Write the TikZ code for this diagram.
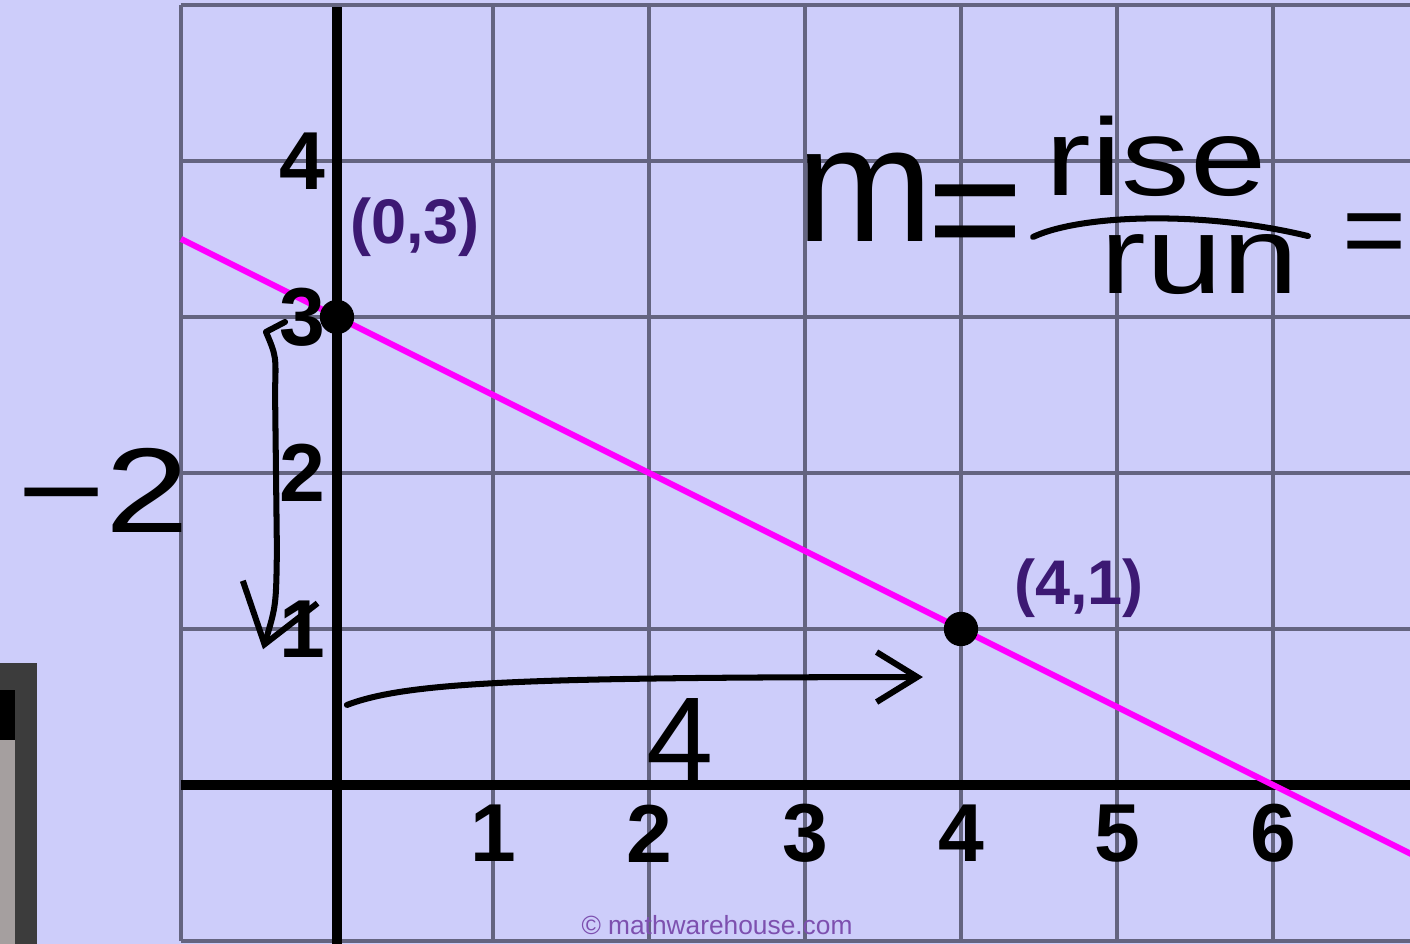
\documentclass[tikz,border=0pt]{standalone}
\usepackage{fontspec}
\setmainfont{Liberation Sans}
\usepackage{xcolor}
\usepackage{tikz}
\usetikzlibrary{arrows.meta}
\definecolor{paper}{RGB}{205,205,250}
\definecolor{gridgray}{RGB}{100,100,128}
\definecolor{graphpink}{RGB}{255,0,255}
\definecolor{ptpurple}{RGB}{60,25,115}
\definecolor{creditpurple}{RGB}{125,80,175}
\definecolor{paneldark}{RGB}{60,60,60}
\definecolor{panellight}{RGB}{165,159,159}

\begin{document}
\begin{tikzpicture}[
    gridline/.style={draw=gridgray,line width=0.8pt},
    axis/.style={draw=black,line width=1.8pt},
    graph/.style={draw=graphpink,line width=1.1pt},
    dot/.style={circle,fill=black,inner sep=0pt,minimum size=2.2mm},
    ticklabel/.style={font=\fontsize{15}{16}\selectfont\bfseries,inner sep=0pt},
    ptlabel/.style={font=\fontsize{11.5}{13}\selectfont\bfseries,text=ptpurple,inner sep=0pt},
    hand/.style={font=\fontsize{20}{22}\selectfont,inner sep=0pt},
    bighand/.style={font=\fontsize{30}{32}\selectfont,inner sep=0pt},
    stroke/.style={draw=black,line width=1.1pt,line cap=round,line join=round},
    credit/.style={font=\fontsize{4.8}{5.5}\selectfont,text=creditpurple,inner sep=0pt}
  ]
    % Page
    \useasboundingbox (-2.16,-1.019) rectangle (6.878,5.032);
    \clip (-2.16,-1.019) rectangle (6.878,5.032);
    \fill[paper] (-2.16,-1.019) rectangle (6.878,5.032);

    % Panel at the left edge
    \fill[paneldark] (-2.16,-1.019) rectangle (-1.923,0.782);
    \fill[black] (-2.16,0.288) rectangle (-2.064,0.609);
    \fill[panellight] (-2.16,-1.019) rectangle (-2.064,0.288);

    % Grid and axes
    \draw[gridline] (-1,-1) grid (7,5);
    \draw[axis] (-1,0) -- (7,0);
    \draw[axis] (0,-1.1) -- (0,4.99);

    % Line
    \draw[graph] (-1,3.5) -- (7,-0.5);

    % Axis numbers
    \foreach \x in {1,...,6} \node[ticklabel] (xt\x) at (\x,-0.31) {\x};
    \foreach \y in {1,...,4} \node[ticklabel,anchor=east] (yt\y) at (-0.07,\y) {\y};

    % Points
    \node[dot] (p03) at (0,3) {};
    \node[dot] (p41) at (4,1) {};
    \node[ptlabel] (l03) at (0.5,3.575) {(0,3)};
    \node[ptlabel] (l41) at (4.756,1.263) {(4,1)};

    % Slope formula
    \node[bighand,anchor=base west] (mm) at (2.936,3.481) {m};
    \node[bighand] (eq1) at (4.09,3.59) {=};
    \node[hand,anchor=base] (rise) at (5.25,3.78) {\scalebox{1.25}[1]{rise}};
    \node[hand,anchor=base] (run) at (5.53,3.15) {\scalebox{1.25}[1]{run}};
    \node[hand,anchor=west] (eq2) at (6.44,3.49) {=};
    \draw[stroke] (4.462,3.513) .. controls (4.763,3.654) and (5.532,3.686) .. (6.224,3.519);

    % Rise
    \coordinate (risebeg) at (-0.333,2.968);
    \coordinate (riseend) at (-0.474,0.87);
    \draw[stroke,-{Straight Barb[length=3.5mm,width=5mm]}] (risebeg) -- (-0.455,2.904)
      .. controls (-0.39,2.75) .. (-0.397,2.532) -- (-0.385,1.506)
      .. controls (-0.39,1.15) .. (riseend);
    \node[hand,font=\fontsize{22}{24}\selectfont] (risenum) at (-1.5,1.891) {\scalebox{1.25}[1]{−2}};

    % Run
    \coordinate (runbeg) at (0.064,0.513);
    \coordinate (runend) at (3.756,0.692);
    \draw[stroke,-{Straight Barb[length=2.6mm,width=3.2mm]}] (runbeg) .. controls (0.45,0.66) and (1.2,0.69) .. (runend);
    \node[hand,font=\fontsize{22}{24}\selectfont] (runnum) at (2.199,0.288) {4};

    % Credit
    \node[credit] (wm) at (2.436,-0.897) {© mathwarehouse.com};
\end{tikzpicture}
\end{document}
